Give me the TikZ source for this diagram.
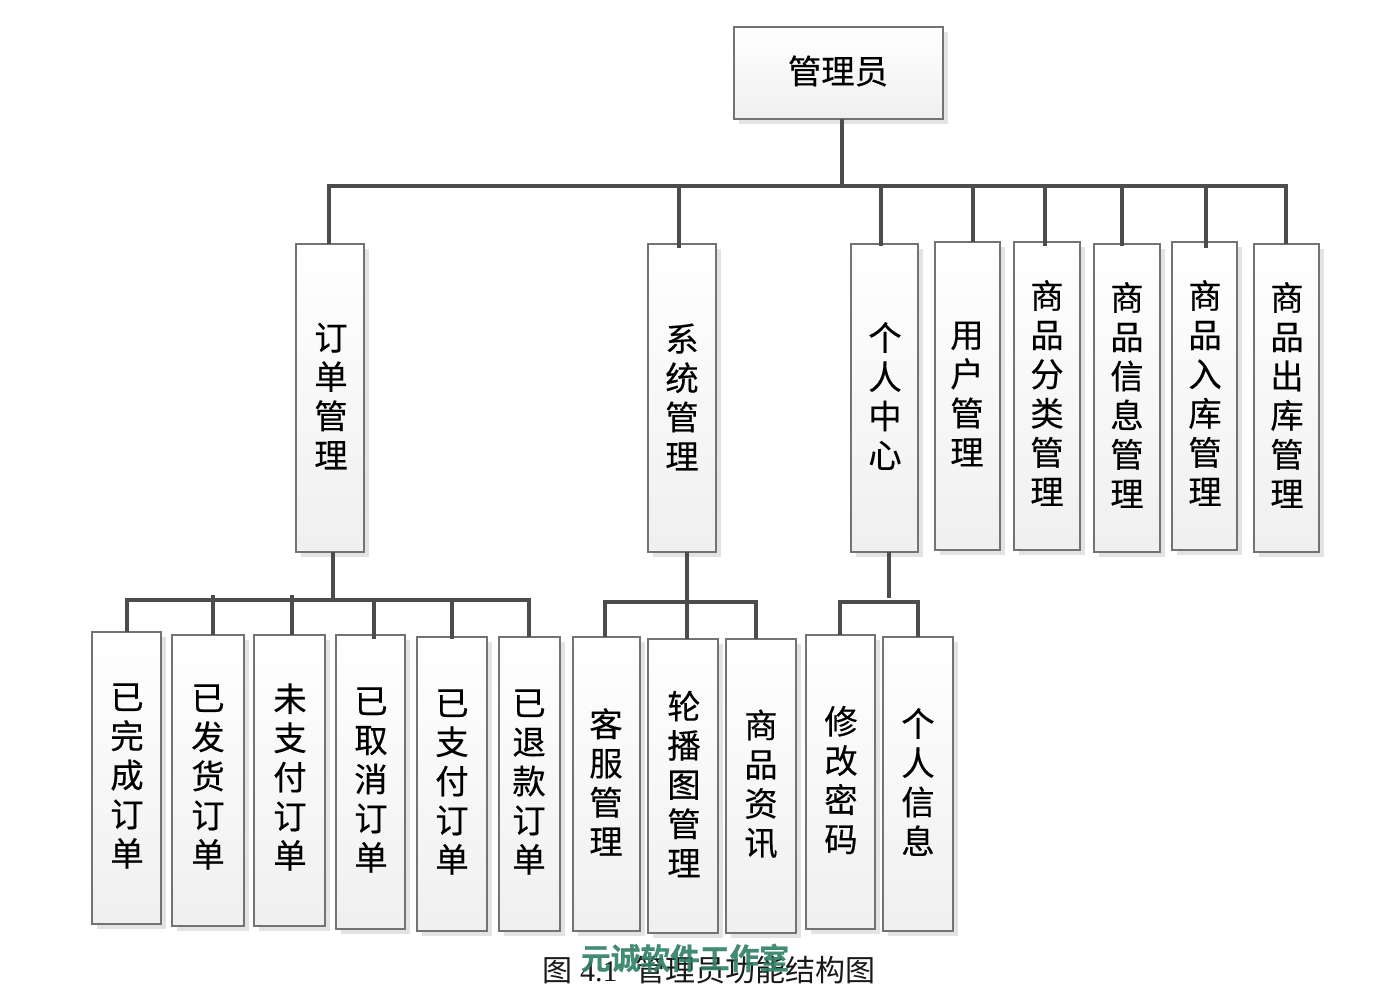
\documentclass[tikz,border=0pt]{standalone}
\usepackage{fontspec}
\setmainfont{Liberation Serif}
\newfontfamily\cjk[FakeBold=0.35]{Noto Sans CJK SC}
\newfontfamily\cjkthin{Noto Sans CJK SC}
\newfontfamily\cjkb[FakeBold=0.6]{Noto Sans CJK SC Bold}
\definecolor{wmark}{HTML}{2F7F66}
\tikzset{
  box/.style={draw=black!55,line width=0.9pt,top color=white,bottom color=black!6,
    inner sep=0pt,outer sep=0pt},
  conn/.style={draw=black!70,line width=2.5pt},
  lab/.style={font=\cjk\fontsize{25}{29.4}\selectfont,align=center,inner sep=0pt,text=black}
}
\newcommand{\boxnode}[5]{% name x1 y1 x2 y2
  \fill[black!11] (#2+5,#3+5) rectangle (#4+5,#5+5);
  \node[box,minimum width={(#4-#2)*0.75pt},minimum height={(#5-#3)*0.75pt}] (#1) at ({(#2+#4)/2},{(#3+#5)/2}) {};
}
\newcommand{\V}[8]{%
  \boxnode{#1}{#2}{#3}{#4}{#5}
  \node[lab] (#1t) at (#6,#7) {#8};
}
\begin{document}
\begin{tikzpicture}[x=0.75pt,y=-0.75pt]
\useasboundingbox (0,0) rectangle (1373,996);
\fill[white] (0,0) rectangle (1373,996);
% junctions
\coordinate (rootbus) at (842,186);
\coordinate (abus) at (333,600);
\coordinate (bbus) at (687,602);
\coordinate (cbus) at (889,602);
% top
\boxnode{root}{734}{27}{943}{119}
\node[lab] (roott) at (838,71) {管理员};
% second level
\V{a}{296}{244}{364}{552}{331}{396}{订\\单\\管\\理}
\V{b}{648}{244}{716}{552}{682}{397}{系\\统\\管\\理}
\V{c}{851}{244}{918}{552}{885}{396}{个\\人\\中\\心}
\V{d}{935}{242}{1000}{550}{967}{394}{用\\户\\管\\理}
\V{e}{1014}{242}{1080}{550}{1047}{393}{商\\品\\分\\类\\管\\理}
\V{f}{1094}{244}{1160}{552}{1127}{395}{商\\品\\信\\息\\管\\理}
\V{g}{1172}{242}{1237}{550}{1205}{393}{商\\品\\入\\库\\管\\理}
\V{h}{1254}{244}{1319}{552}{1287}{395}{商\\品\\出\\库\\管\\理}
% third level
\V{a1}{92}{632}{161}{924}{127}{776}{已\\完\\成\\订\\单}
\V{a2}{172}{635}{244}{926}{208}{777}{已\\发\\货\\订\\单}
\V{a3}{254}{635}{325}{926}{290}{777}{未\\支\\付\\订\\单}
\V{a4}{336}{635}{405}{929}{371}{780}{已\\取\\消\\订\\单}
\V{a5}{417}{637}{487}{931}{452}{782}{已\\支\\付\\订\\单}
\V{a6}{499}{637}{560}{931}{529}{782}{已\\退\\款\\订\\单}
\V{b1}{573}{637}{640}{931}{606}{782}{客\\服\\管\\理}
\V{b2}{648}{639}{718}{933}{684}{784}{轮\\播\\图\\管\\理}
\V{b3}{726}{639}{796}{933}{761}{784}{商\\品\\资\\讯}
\V{c1}{806}{635}{875}{929}{841}{780}{修\\改\\密\\码}
\V{c2}{883}{637}{953}{931}{918}{782}{个\\人\\信\\息}
% connectors
\draw[conn] (rootbus |- root.south) -- (rootbus);
\draw[conn] (329,0 |- a.north) -- (329,186) -- (1286,186) -- (1286,0 |- h.north);
\draw[conn] (679,186) -- ([yshift=-3pt]679,0 |- b.north);
\draw[conn] (881,186) -- ([yshift=-1.5pt]881,0 |- c.north);
\draw[conn] (973,186) -- (973,0 |- d.north);
\draw[conn] (1045,186) -- ([yshift=-3pt]1045,0 |- e.north);
\draw[conn] (1122,186) -- ([yshift=-1.5pt]1122,0 |- f.north);
\draw[conn] (1206,186) -- ([yshift=-4.5pt]1206,0 |- g.north);
\draw[conn] (abus |- a.south) -- (abus);
\draw[conn] (127,0 |- a1.north) -- (127,600) -- (529,600) -- (529,0 |- a6.north);
\draw[conn] (213,595) -- (213,0 |- a2.north);
\draw[conn] (292,595) -- (292,0 |- a3.north);
\draw[conn] (374,600) -- ([yshift=-3pt]374,0 |- a4.north);
\draw[conn] (452,600) -- ([yshift=-1.5pt]452,0 |- a5.north);
\draw[conn] (bbus |- b.south) -- (bbus |- b2.north);
\draw[conn] (605,0 |- b1.north) -- (605,602) -- (756,602) -- (756,0 |- b3.north);
\draw[conn] (cbus |- c.south) -- (889,598);
\draw[conn] (840,0 |- c1.north) -- (840,602) -- (918,602) -- (918,0 |- c2.north);
% caption and watermark
\node[inner sep=0pt,font=\fontsize{22.5}{28}\selectfont,text=black!90] (cap) at (709,970) {{\cjkthin 图} 4.1\hspace{0.6em}{\cjkthin 管理员功能结构图}};
\node[inner sep=0pt,font=\cjkb\fontsize{22.3}{26}\selectfont,text=wmark,opacity=.9] (wm) at (685,958) {元诚软件工作室};
\end{tikzpicture}
\end{document}
